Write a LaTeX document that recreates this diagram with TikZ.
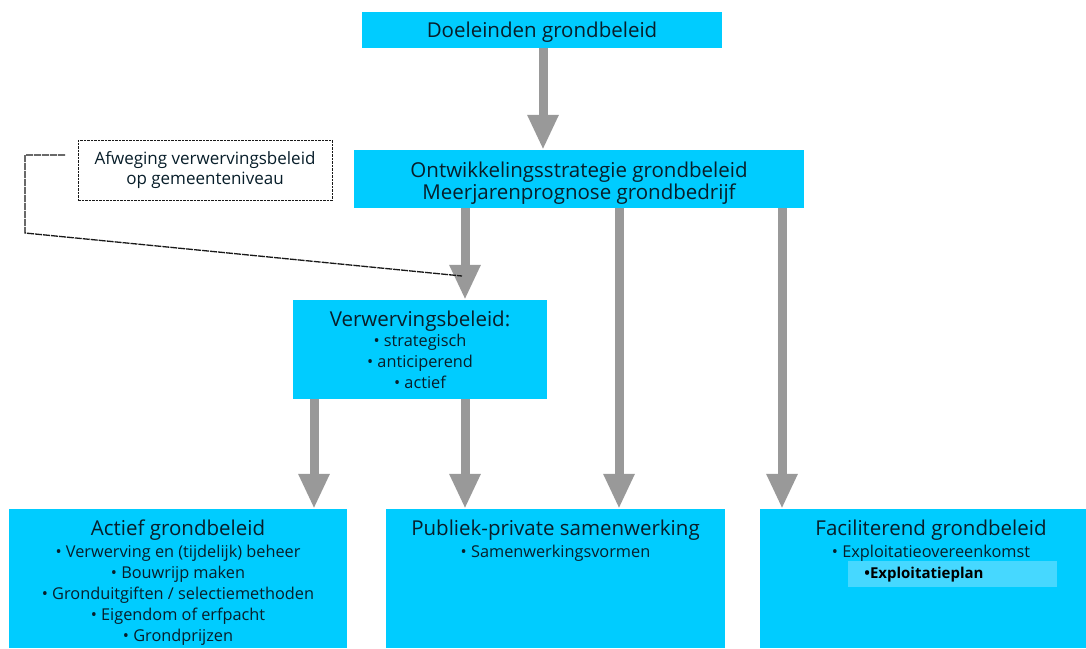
\documentclass[tikz,border=0pt]{standalone}
\usepackage{fontspec}
\setmainfont{Open Sans}
\usetikzlibrary{arrows.meta}
\definecolor{boxcyan}{RGB}{0,204,255}
\definecolor{hilite}{RGB}{70,216,255}
\definecolor{arrgray}{RGB}{153,153,153}
\definecolor{txt}{RGB}{8,30,42}
\begin{document}
\begin{tikzpicture}[x=1pt,y=-1pt,
  cbox/.style={fill=boxcyan, draw=none, inner sep=0pt, text=txt, align=center},
  ctext/.style={text=txt, align=center, inner sep=0pt},
  bigarrow/.style={draw=arrgray, line width=9pt, -{Triangle[width=29pt,length=35pt]}, fill=arrgray},
  dashbox/.style={draw=black!90, line width=1pt, dash pattern=on 2.5pt off 1pt, fill=white, inner sep=0pt, text=txt, align=center},
  linkline/.style={draw=black!90, line width=1.3pt, dash pattern=on 7pt off 1pt},
  headfont/.style={font=\fontsize{20.5}{22}\selectfont},
  itemfont/.style={font=\fontsize{16.3}{21}\selectfont}
]
\useasboundingbox (0,0) rectangle (1086,648);
\fill[white] (0,0) rectangle (1086,648);

% boxes
\node[cbox, minimum width=360pt, minimum height=36pt] (doel) at (542,30) {};
\node[ctext, headfont] (doeltxt) at ([yshift=-2pt]doel.center) {Doeleinden grondbeleid};
\node[cbox, minimum width=450pt, minimum height=58pt] (ontw) at (579,179) {};
\node[ctext, headfont] (ontwtxt) at ([yshift=-4pt]ontw.center) {Ontwikkelingsstrategie grondbeleid\\Meerjarenprognose grondbedrijf};
\node[dashbox, font=\fontsize{17}{20.5}\selectfont, minimum width=254pt, minimum height=60pt] (afw) at (205,170) {Afweging verwervingsbeleid\\op gemeenteniveau};
\node[cbox, itemfont, minimum width=254pt, minimum height=99pt] (verw) at (420,349.5) {{\fontsize{20.5}{22}\selectfont Verwervingsbeleid:}\\[-1pt]• strategisch\\• anticiperend\\• actief};
\node[cbox, minimum width=338pt, minimum height=139pt] (act) at (178,578.5) {};
\node[cbox, minimum width=339pt, minimum height=139pt] (pps) at (555.5,578.5) {};
\node[cbox, minimum width=326pt, minimum height=139pt] (fac) at (923,578.5) {};

% texts of the bottom boxes
\node[ctext, itemfont, anchor=north] (acttxt) at ([yshift=-11pt]act.north)
  {{\fontsize{20.5}{22}\selectfont Actief grondbeleid}\\[1pt]• Verwerving en (tijdelijk) beheer\\• Bouwrijp maken\\• Gronduitgiften / selectiemethoden\\• Eigendom of erfpacht\\• Grondprijzen};
\node[ctext, itemfont, anchor=north] (ppstxt) at ([yshift=-11pt]pps.north)
  {{\fontsize{20.5}{22}\selectfont Publiek-private samenwerking}\\[1pt]• Samenwerkingsvormen};
\coordinate (facx) at (931,509);
\node[fill=hilite, minimum width=209pt, minimum height=26pt, inner sep=0pt] (hl) at (952.5,574) {};
\node[ctext, itemfont, anchor=north] (factxt) at ([yshift=-11pt]facx)
  {{\fontsize{20.5}{22}\selectfont Faciliterend grondbeleid}\\[1pt]• Exploitatieovereenkomst};
\node[text=black, font=\fontsize{15}{18}\selectfont\bfseries, inner sep=0pt] (plan) at (924,575) {•Exploitatieplan};

% columns
\coordinate (xa) at (465,0);
\coordinate (xb) at (619,0);
\coordinate (xc) at (782,0);
\coordinate (xd) at (314,0);
\coordinate (xe) at (543,0);

% arrows
\draw[bigarrow] (doel.south -| xe) -- (ontw.north -| xe);
\draw[bigarrow] (ontw.south -| xa) -- (verw.north -| xa);
\draw[bigarrow] (ontw.south -| xb) -- (pps.north -| xb);
\draw[bigarrow] (ontw.south -| xc) -- (fac.north -| xc);
\draw[bigarrow] (verw.south -| xd) -- (act.north -| xd);
\draw[bigarrow] (verw.south -| xa) -- (pps.north -| xa);

% dashed link
\coordinate (l0) at (65,155);
\coordinate (l1) at (25,155);
\coordinate (l2) at (25,233);
\coordinate (l3) at (462,276);
\draw[linkline] (l0) -- (l1) -- (l2) -- (l3);
\end{tikzpicture}
\end{document}
